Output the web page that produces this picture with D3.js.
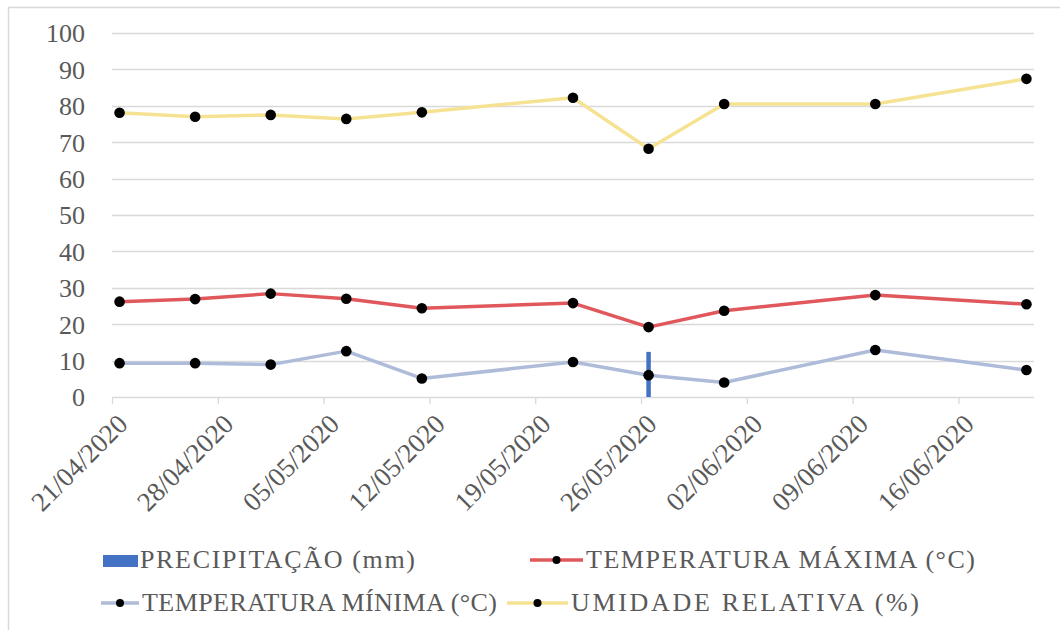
<!DOCTYPE html>
<html>
<head>
<meta charset="utf-8">
<script src="https://cdn.jsdelivr.net/npm/d3@7"></script>
<style>
  html, body { margin: 0; padding: 0; background: #ffffff; }
  svg { display: block; }
  text { font-family: "Liberation Serif", "Times New Roman", serif; fill: #595959; }
</style>
</head>
<body>
<svg id="chart" width="1060" height="630"></svg>
<script>
// Observation dates (dd/mm/yyyy)
const dates = ["21/04/2020", "26/04/2020", "01/05/2020", "06/05/2020", "11/05/2020",
               "21/05/2020", "26/05/2020", "31/05/2020", "10/06/2020", "20/06/2020"];
const precipitacao = [0, 0, 0, 0, 0, 0, 12.4, 0, 0, 0];
const temperaturaMaxima = [26.2, 26.9, 28.4, 27.0, 24.4, 25.8, 19.2, 23.7, 28.0, 25.5];
const temperaturaMinima = [9.3, 9.3, 8.9, 12.6, 5.1, 9.6, 6.0, 4.0, 12.9, 7.4];
const umidadeRelativa = [78.1, 77.0, 77.5, 76.4, 78.2, 82.2, 68.2, 80.5, 80.5, 87.4];

const yTicks = [0, 10, 20, 30, 40, 50, 60, 70, 80, 90, 100];
const xTickLabels = ["21/04/2020", "28/04/2020", "05/05/2020", "12/05/2020", "19/05/2020",
                     "26/05/2020", "02/06/2020", "09/06/2020", "16/06/2020"];
const axisStart = "21/04/2020";
const axisEnd = "21/06/2020";

const seriesNames = ["PRECIPITAÇÃO (mm)", "TEMPERATURA MÁXIMA (°C)",
                     "TEMPERATURA MÍNIMA (°C)", "UMIDADE RELATIVA (%)"];

const parse = d3.timeParse("%d/%m/%Y");
const colors = {
  precip: "#4472c4",
  tmax: "#e0585c",
  tmin: "#aebcd9",
  ur: "#f6e293",
  grid: "#d9d9d9"
};

const svg = d3.select("#chart");
const plot = { left: 112, right: 1034, top: 33, bottom: 397 };

// Outer chart frame
svg.append("path")
  .attr("d", "M8.5,630 L8.5,7.5 L1060,7.5")
  .attr("fill", "none")
  .attr("stroke", colors.grid)
  .attr("stroke-width", 1.5);

const x = d3.scaleTime()
  .domain([parse(axisStart), parse(axisEnd)])
  .range([plot.left, plot.right]);

const y = d3.scaleLinear()
  .domain([0, 100])
  .range([plot.bottom, plot.top]);

// Each value sits in the middle of its day
const midDay = s => d3.timeHour.offset(parse(s), 12);

// Horizontal gridlines
svg.append("g")
  .selectAll("line")
  .data(yTicks)
  .join("line")
  .attr("x1", plot.left)
  .attr("x2", plot.right)
  .attr("y1", d => Math.round(y(d)) + 0.5)
  .attr("y2", d => Math.round(y(d)) + 0.5)
  .attr("stroke", colors.grid)
  .attr("stroke-width", 1.3);

// Y axis labels
const yAxis = d3.axisLeft(y).tickValues(yTicks).tickSize(0).tickPadding(27);
const gy = svg.append("g").attr("transform", `translate(${plot.left},0)`).call(yAxis);
gy.select(".domain").remove();
gy.selectAll("text")
  .style("font-size", "26px")
  .attr("fill", "#595959")
  .attr("dy", "0.34em");

// X axis with weekly ticks
const xAxis = d3.axisBottom(x)
  .tickValues(xTickLabels.map(parse))
  .tickSize(7)
  .tickFormat(d3.timeFormat("%d/%m/%Y"));
const gx = svg.append("g").attr("transform", `translate(0,${plot.bottom})`).call(xAxis);
gx.select(".domain").remove();
gx.selectAll(".tick line").attr("stroke", colors.grid).attr("stroke-width", 1.3);
gx.selectAll(".tick text")
  .style("font-size", "27px")
  .attr("fill", "#595959")
  .attr("text-anchor", "end")
  .attr("x", 0)
  .attr("y", 0)
  .attr("dy", "0.35em")
  .attr("transform", "translate(10,22) rotate(-45)");

// Precipitation bars
const barW = 4.5;
svg.append("g")
  .selectAll("rect")
  .data(dates.map((d, i) => ({ date: midDay(d), v: precipitacao[i] })).filter(d => d.v > 0))
  .join("rect")
  .attr("x", d => x(d.date) - barW / 2)
  .attr("y", d => y(d.v))
  .attr("width", barW)
  .attr("height", d => y(0) - y(d.v))
  .attr("fill", colors.precip);

// Line series
const line = d3.line().x(d => x(d.date)).y(d => y(d.v));
const lineSeries = [
  { values: temperaturaMaxima, color: colors.tmax },
  { values: temperaturaMinima, color: colors.tmin },
  { values: umidadeRelativa, color: colors.ur }
];

lineSeries.forEach(s => {
  const pts = dates.map((d, i) => ({ date: midDay(d), v: s.values[i] }));
  const g = svg.append("g");
  g.append("path")
    .datum(pts)
    .attr("d", line)
    .attr("fill", "none")
    .attr("stroke", s.color)
    .attr("stroke-width", 3.5)
    .attr("stroke-linejoin", "round");
  g.selectAll("circle")
    .data(pts)
    .join("circle")
    .attr("cx", d => x(d.date))
    .attr("cy", d => y(d.v))
    .attr("r", 5.3)
    .attr("fill", "#000000");
});

// Legend
const legendItems = [
  { name: seriesNames[0], type: "bar", color: colors.precip, sx: 103, tx: 140, ty: 568, w: 275 },
  { name: seriesNames[1], type: "line", color: colors.tmax, sx: 530, tx: 586, ty: 568, w: 389 },
  { name: seriesNames[2], type: "line", color: colors.tmin, sx: 101, tx: 142, ty: 611, w: 355 },
  { name: seriesNames[3], type: "line", color: colors.ur, sx: 507, tx: 571, ty: 611, w: 348 }
];
const legend = svg.append("g");
legendItems.forEach(it => {
  const g = legend.append("g");
  if (it.type === "bar") {
    g.append("rect")
      .attr("x", it.sx).attr("y", it.ty - 13)
      .attr("width", it.tx - it.sx - 2).attr("height", 12)
      .attr("fill", it.color);
  } else {
    const x1 = it.sx, x2 = it.tx - 3, cy = it.ty - 8;
    g.append("line")
      .attr("x1", x1).attr("x2", x2).attr("y1", cy).attr("y2", cy)
      .attr("stroke", it.color).attr("stroke-width", 3.5);
    g.append("circle")
      .attr("cx", (x1 + x2) / 2).attr("cy", cy).attr("r", 4)
      .attr("fill", "#000000");
  }
  g.append("text")
    .attr("x", it.tx).attr("y", it.ty)
    .attr("textLength", it.w)
    .attr("lengthAdjust", "spacing")
    .style("font-size", "26px")
    .text(it.name);
});
</script>
</body>
</html>
